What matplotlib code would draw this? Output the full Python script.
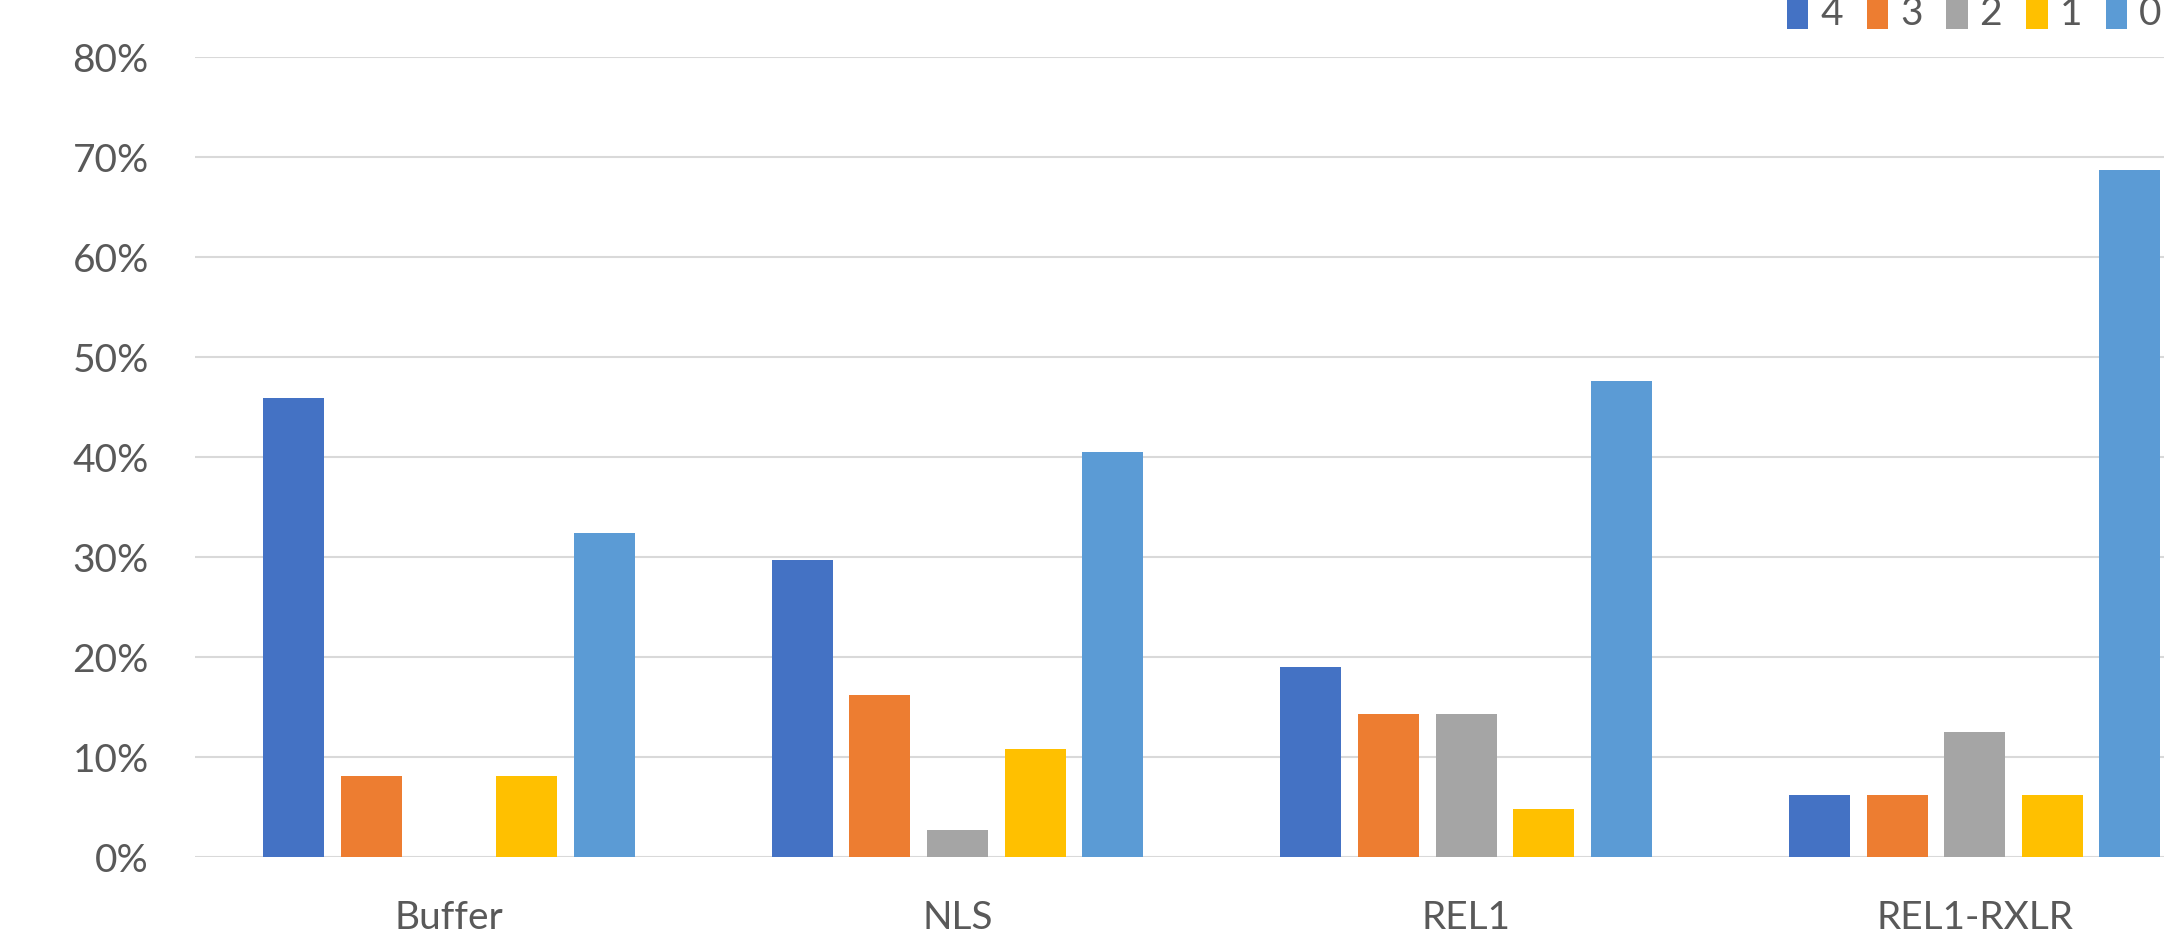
import matplotlib
matplotlib.use("Agg")
import matplotlib.pyplot as plt
import numpy as np
from matplotlib.ticker import PercentFormatter

categories = ["Buffer", "NLS", "REL1", "REL1-RXLR"]
series_names = ["4", "3", "2", "1", "0"]
s4 = [45.9, 29.7, 19.0, 6.25]
s3 = [8.1, 16.2, 14.3, 6.25]
s2 = [0.0, 2.7, 14.3, 12.5]
s1 = [8.1, 10.8, 4.8, 6.25]
s0 = [32.4, 40.5, 47.6, 68.75]
colors = ["#4472C4", "#ED7D31", "#A5A5A5", "#FFC000", "#5B9BD5"]

plt.rcParams['font.family'] = ['Lato', 'DejaVu Sans']

W, H = 2164, 934
fig = plt.figure(figsize=(W / 100, H / 100), dpi=100)
left_px, right_px = 194.6, 2229
bottom_px, top_px = 857, 57
ax = fig.add_axes([left_px / W, (H - bottom_px) / H,
                   (right_px - left_px) / W, (bottom_px - top_px) / H])

x = np.arange(len(categories))
step = 0.1526
width = 0.12
bars = []
for i, (vals, name, c) in enumerate(zip([s4, s3, s2, s1, s0], series_names, colors)):
    b = ax.bar(x + (i - 2) * step, vals, width, color=c, label=name, zorder=3)
    bars.append(b)

ax.set_xlim(-0.5, len(categories) - 0.5)
ax.set_ylim(0, 80)
ax.set_yticks(np.arange(0, 81, 10))
ax.yaxis.set_major_formatter(PercentFormatter(decimals=0))
ax.set_xticks(x)
ax.set_xticklabels(categories)
ax.grid(axis='y', color='#D9D9D9', linewidth=1.5, zorder=0)
for sp in ax.spines.values():
    sp.set_visible(False)
ax.tick_params(axis='both', length=0, labelsize=28, labelcolor='#595959')
ax.tick_params(axis='y', pad=33)
ax.tick_params(axis='x', pad=31)

fig.legend(handles=bars, labels=series_names, loc='center left',
           bbox_to_anchor=(1787 / W, 1 - 13 / H), ncol=5, frameon=False,
           fontsize=28, labelcolor='#595959', handlelength=0.55, handleheight=1.0,
           handletextpad=0.3, columnspacing=0.62, borderpad=0, borderaxespad=0)

fig.savefig("out.png", dpi=100)
